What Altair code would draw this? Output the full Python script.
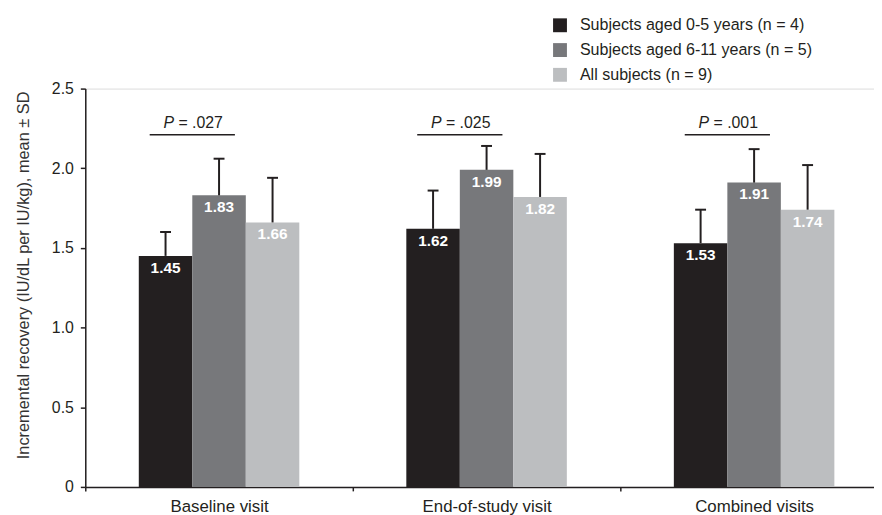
import altair as alt
import pandas as pd

visits = ["Baseline visit", "End-of-study visit", "Combined visits"]
groups = [
    "Subjects aged 0-5 years (n = 4)",
    "Subjects aged 6-11 years (n = 5)",
    "All subjects (n = 9)",
]
colors = ["#231F20", "#77787B", "#BCBEC0"]

means_0_5 = [1.45, 1.62, 1.53]
means_6_11 = [1.83, 1.99, 1.91]
means_all = [1.66, 1.82, 1.74]
sd_0_5 = [0.15, 0.24, 0.21]
sd_6_11 = [0.23, 0.15, 0.21]
sd_all = [0.28, 0.27, 0.28]

p_values = [".027", ".025", ".001"]
p_line_y = 2.21
p_text_y = 2.285

FONT = "Liberation Sans"
INK = "#231F20"

rows = []
for g, ms, ss in zip(groups, [means_0_5, means_6_11, means_all], [sd_0_5, sd_6_11, sd_all]):
    for v, m, s in zip(visits, ms, ss):
        rows.append({"visit": v, "group": g, "mean": m, "upper": m + s, "label": f"{m:.2f}"})
df = pd.DataFrame(rows)

pdf = pd.DataFrame({
    "visit": visits,
    "p": ["= " + p for p in p_values],
    "P": ["P"] * 3,
    "yl": [p_line_y] * 3,
    "yt": [p_text_y] * 3,
})

x_enc = alt.X(
    "visit:N",
    sort=visits,
    scale=alt.Scale(range=[0, 810], paddingInner=0, paddingOuter=0),
    axis=alt.Axis(
        title=None, labelAngle=0, tickBand="extent", tickSize=4, tickWidth=1.5,
        tickColor=INK, domainColor=INK, domainWidth=1.5, labelFontSize=17,
        labelColor=INK, labelFont=FONT, labelPadding=8,
    ),
)
xoff = alt.XOffset("group:N", sort=groups, scale=alt.Scale(paddingInner=0, paddingOuter=1))

y_scale = alt.Scale(domain=[0, 2.5], nice=False)
y_enc = alt.Y(
    "mean:Q",
    scale=y_scale,
    axis=alt.Axis(
        values=[0, 0.5, 1, 1.5, 2, 2.5],
        labelExpr="datum.value == 0 ? '0' : format(datum.value, '.1f')",
        title="Incremental recovery (IU/dL per IU/kg), mean ± SD",
        titleFontSize=16.5, titleFontWeight="normal", titleColor="#333333",
        titleFont=FONT, titlePadding=20, titleY=188,
        labelFontSize=16, labelColor=INK, labelFont=FONT, labelPadding=7,
        tickSize=5, tickWidth=1.5, tickColor=INK, domainColor=INK, domainWidth=1.5,
        grid=False,
    ),
)

base = alt.Chart(df)

bars = base.mark_bar().encode(
    x=x_enc,
    xOffset=xoff,
    y=y_enc,
    color=alt.Color(
        "group:N",
        sort=groups,
        scale=alt.Scale(domain=groups, range=colors),
        legend=alt.Legend(
            title=None, orient="none", legendX=471, legendY=-72,
            symbolType="square", symbolSize=196, symbolStrokeWidth=0,
            symbolOpacity=1, labelFontSize=16.2, labelFont=FONT, labelColor=INK,
            labelOffset=12, rowPadding=8, labelLimit=400,
        ),
    ),
)

errs = base.mark_rule(strokeWidth=2, color=INK).encode(
    x=x_enc, xOffset=xoff, y=alt.Y("mean:Q", scale=y_scale), y2="upper:Q"
)
caps = base.mark_tick(orient="horizontal", size=11, thickness=2, color=INK, opacity=1).encode(
    x=x_enc, xOffset=xoff, y=alt.Y("upper:Q", scale=y_scale)
)
vals = base.mark_text(
    color="white", fontWeight="bold", fontSize=15.5, font=FONT, baseline="top", dy=5
).encode(x=x_enc, xOffset=xoff, y=alt.Y("mean:Q", scale=y_scale), text="label:N")

pb = alt.Chart(pdf)
pline = pb.mark_tick(orient="horizontal", size=86, thickness=1.5, color=INK, opacity=1, xOffset=-27).encode(
    x=x_enc, y=alt.Y("yl:Q", scale=y_scale)
)
ptxt1 = pb.mark_text(
    align="left", baseline="middle", fontStyle="italic", fontSize=16, font=FONT, color=INK, xOffset=-56
).encode(x=x_enc, y=alt.Y("yt:Q", scale=y_scale), text="P:N")
ptxt2 = pb.mark_text(
    align="left", baseline="middle", fontSize=16, font=FONT, color=INK, xOffset=-41
).encode(x=x_enc, y=alt.Y("yt:Q", scale=y_scale), text="p:N")

chart = alt.layer(bars, errs, caps, vals, pline, ptxt1, ptxt2).properties(
    width=796,
    height=402,
    autosize=alt.AutoSizeParams(type="none"),
    padding={"left": 78, "top": 79, "right": 0, "bottom": 26},
).configure_view(stroke=None).configure(font=FONT)

chart.save("out.html", embed_options={"renderer": "svg", "actions": False})
